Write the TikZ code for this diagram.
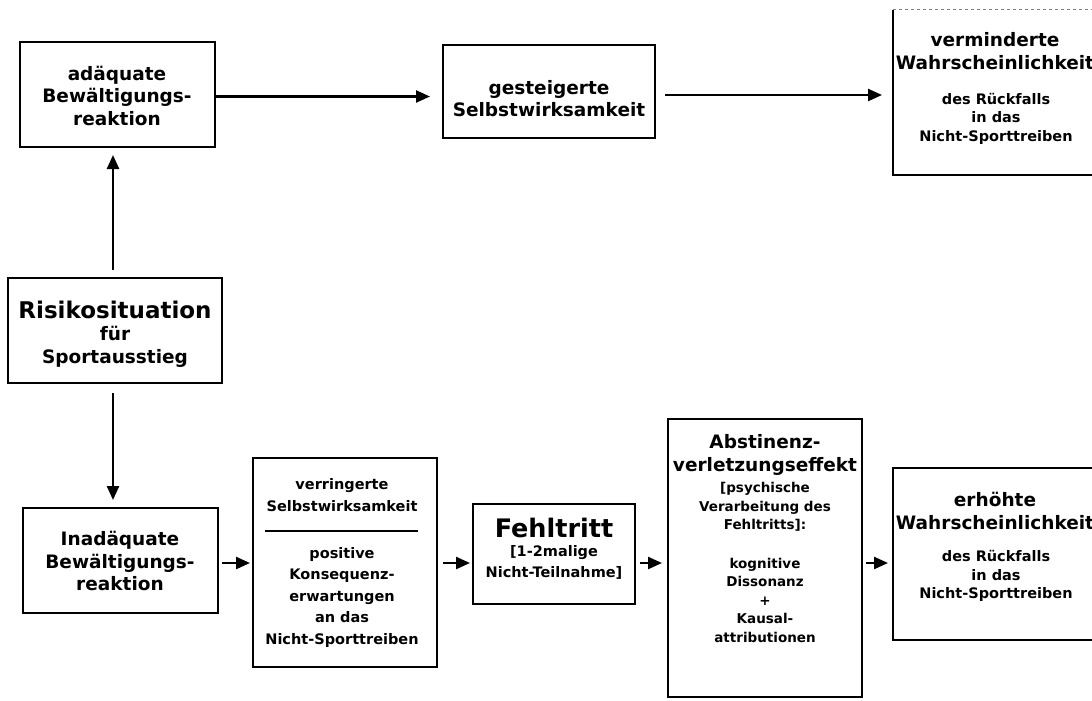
\documentclass[tikz,border=0pt]{standalone}
\usepackage{fontspec}
\setmainfont{DejaVu Sans}
\usetikzlibrary{arrows.meta,calc}
\newcommand\hdf{\fontsize{18.5}{22.5}\selectfont\bfseries}
\newcommand\bigf{\fontsize{23}{25}\selectfont\bfseries}
\newcommand\fef{\fontsize{25.5}{27}\selectfont\bfseries}
\newcommand\smf{\fontsize{14.5}{21.5}\selectfont\bfseries}
\newcommand\rsf{\fontsize{14.5}{18.5}\selectfont\bfseries}
\newcommand\abf{\fontsize{13.5}{18.5}\selectfont\bfseries}
\begin{document}
\begin{tikzpicture}[x=1pt,y=-1pt,
  box/.style={draw, line width=2pt, inner sep=0pt, outer sep=0pt},
  txt/.style={align=center, inner sep=0pt},
  arr/.style={line width=2.4pt, -{Triangle[length=14pt,width=12pt]}}]
\clip (0,0) rectangle (1092,701);
\fill[white] (0,0) rectangle (1092,701);
% boxes
\node[box, minimum width=195, minimum height=105] (ad) at (117.5,94.5) {};
\node[box, minimum width=212, minimum height=93] (ge) at (549,91.5) {};
\node[draw=none, inner sep=0pt, outer sep=0pt, minimum width=207, minimum height=165] (vm) at (996.5,92.5) {};
\node[box, minimum width=214, minimum height=105] (ri) at (115,330.5) {};
\node[box, minimum width=195, minimum height=105] (in) at (120.5,560.5) {};
\node[box, minimum width=184, minimum height=209] (vr) at (345,562.5) {};
\node[box, minimum width=162, minimum height=100] (fe) at (554,554) {};
\node[box, minimum width=194, minimum height=278] (ab) at (765,558) {};
\node[box, minimum width=207, minimum height=172] (er) at (996.5,554) {};
% open box on the right (top)
\draw[line width=1pt, gray, dashed] (vm.north east) -- (vm.north west);
\draw[line width=2pt] (vm.north west) -- (vm.south west) -- (vm.south east);
% texts
\node[txt, font=\hdf] (ad-t) at (117,95.5) {adäquate\\Bewältigungs-\\reaktion};
\node[txt, font=\hdf] (ge-t) at (549,98.5) {gesteigerte\\Selbstwirksamkeit};
\node[txt, font=\hdf] (vm-a) at (995,51) {verminderte\\Wahrscheinlichkeit};
\node[txt, font=\rsf] (vm-b) at (996,118.5) {des Rückfalls\\in das\\Nicht-Sporttreiben};
\node[txt, font=\hdf] (ri-t) at (115,334) {{\bigf Risikosituation}\\für\\Sportausstieg};
\node[txt, font=\hdf] (in-t) at (120,561) {Inadäquate\\Bewältigungs-\\reaktion};
\node[txt, font=\smf] (vr-a) at (342,495) {verringerte\\Selbstwirksamkeit};
\node[txt, font=\smf] (vr-b) at (342,597) {positive\\Konsequenz-\\erwartungen\\an das\\Nicht-Sporttreiben};
\node[txt, font=\fef] (fe-a) at (554,528) {Fehltritt};
\node[txt, font=\smf] (fe-b) at (554,562.5) {[1-2malige\\Nicht-Teilnahme]};
\node[txt, font=\hdf] (ab-a) at (765,455) {Abstinenz-\\verletzungseffekt};
\node[txt, font=\abf] (ab-b) at (765,507) {[psychische\\Verarbeitung des\\Fehltritts]:};
\node[txt, font=\abf] (ab-c) at (765,600) {kognitive\\Dissonanz\\+\\Kausal-\\attributionen};
\node[txt, font=\hdf] (er-a) at (995,511) {erhöhte\\Wahrscheinlichkeit};
\node[txt, font=\rsf] (er-b) at (996,576) {des Rückfalls\\in das\\Nicht-Sporttreiben};
% separator
\draw[line width=1.8pt] ($(vr.north west)+(12,73)$) -- ($(vr.north east)+(-19,73)$);
% connectors
\coordinate (row) at (0,563);
\draw[arr, shorten >=13pt] ([yshift=-2pt]ad.east) -- ([yshift=-2pt]ad.east -| ge.west);
\draw[arr, shorten <=10pt, shorten >=11pt] ([yshift=-3.5pt]ge.east) -- ([yshift=-3.5pt]ge.east -| vm.west);
\draw[arr, shorten <=8pt, shorten >=8pt] ([xshift=-2pt]ri.north) -- ([xshift=-2pt]ri.north |- ad.south);
\draw[arr, shorten <=10pt, shorten >=8pt] ([xshift=-2pt]ri.south) -- ([xshift=-2pt]ri.south |- in.north);
\draw[arr, shorten <=4pt, shorten >=3pt] (in.east |- row) -- (vr.west |- row);
\draw[arr, shorten <=6pt, shorten >=3pt] (vr.east |- row) -- (fe.west |- row);
\draw[arr, shorten <=5pt, shorten >=6pt] (fe.east |- row) -- (ab.west |- row);
\draw[arr, shorten <=4pt, shorten >=5pt] (ab.east |- row) -- (er.west |- row);
\end{tikzpicture}
\end{document}
